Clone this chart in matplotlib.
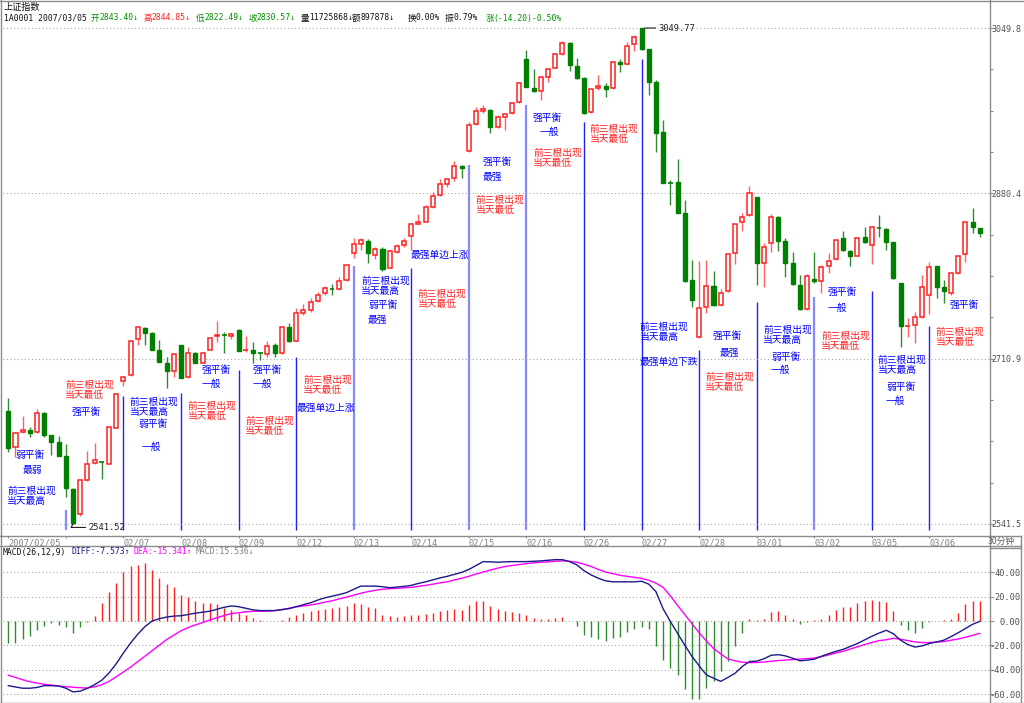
import matplotlib
matplotlib.use('Agg')
import matplotlib.pyplot as plt
import matplotlib.transforms as mtransforms
from matplotlib.patches import Rectangle
from matplotlib.lines import Line2D
import numpy as np

plt.rcParams['font.family'] = ['DejaVu Sans', 'Noto Sans CJK SC']

# ---------------- data (30-minute bars, 8 per day) ----------------
days = ['2007/02/05', '02/06', '02/07', '02/08', '02/09', '02/12', '02/13', '02/14',
        '02/15', '02/16', '02/26', '02/27', '02/28', '03/01', '03/02', '03/05', '03/06']

opens = [2657.3, 2620.1, 2635.5, 2638.1, 2635.5, 2655.0, 2632.7, 2625.9,
         2611.2, 2577.7, 2551.4, 2586.3, 2604.0, 2605.8, 2603.3, 2640.2,
         2688.1, 2694.5, 2730.8, 2742.4, 2737.6, 2719.5, 2706.2, 2698.0,
         2724.6, 2691.8, 2717.1, 2706.2, 2719.8, 2734.2, 2735.9, 2734.2,
         2740.6, 2719.5, 2719.8, 2716.8, 2715.4, 2724.9, 2716.4, 2743.7,
         2729.0, 2758.0, 2760.8, 2770.0, 2778.5, 2782.5, 2782.3, 2791.6,
         2818.9, 2828.1, 2831.8, 2816.9, 2823.6, 2804.2, 2820.6, 2827.1,
         2836.6, 2848.9, 2851.3, 2866.7, 2878.7, 2889.9, 2896.4, 2908.4,
         2924.1, 2951.1, 2964.8, 2965.8, 2948.0, 2958.9, 2962.4, 2974.3,
         3017.7, 2988.6, 2985.2, 2999.3, 3009.1, 3023.2, 3034.1, 3010.9,
         2998.9, 2963.4, 2988.0, 2990.7, 2988.0, 3015.3, 3012.6, 3033.1,
         3049.5, 3028.0, 2994.8, 2943.5, 2891.3, 2892.0, 2860.5, 2791.6,
         2733.5, 2764.2, 2785.4, 2765.9, 2780.3, 2818.9, 2851.0, 2858.2,
         2876.3, 2809.3, 2829.2, 2856.4, 2831.8, 2808.7, 2786.4, 2761.8,
         2792.3, 2790.8, 2805.9, 2812.8, 2834.9, 2821.3, 2816.2, 2835.3,
         2827.4, 2845.3, 2843.40, 2830.2, 2788.2, 2744.4, 2745.4, 2754.0,
         2776.2, 2805.9, 2784.1, 2777.9, 2798.4, 2818.2, 2851.3, 2844.5]

highs = [2670.3, 2636.1, 2652.2, 2641.2, 2659.7, 2656.0, 2633.0, 2631.7,
         2623.5, 2578.0, 2586.3, 2616.0, 2624.8, 2606.5, 2641.5, 2674.4,
         2693.2, 2729.4, 2743.1, 2743.7, 2738.0, 2730.4, 2713.0, 2715.4,
         2725.0, 2723.2, 2717.5, 2717.8, 2732.1, 2749.9, 2738.0, 2737.0,
         2741.0, 2734.2, 2727.7, 2718.1, 2729.4, 2727.0, 2743.7, 2747.2,
         2762.6, 2767.0, 2772.8, 2779.6, 2785.7, 2787.5, 2794.9, 2806.6,
         2834.3, 2834.9, 2833.3, 2825.7, 2825.7, 2822.3, 2828.1, 2834.3,
         2848.9, 2859.2, 2868.4, 2882.1, 2894.8, 2896.4, 2913.8, 2909.4,
         2953.8, 2968.5, 2970.9, 2966.5, 2960.7, 2962.4, 2974.3, 2994.8,
         3027.3, 3007.5, 3000.6, 3009.1, 3024.5, 3036.8, 3035.8, 3018.8,
         2999.3, 2987.3, 3001.6, 2993.1, 3016.4, 3017.7, 3035.8, 3042.6,
         3049.77, 3028.3, 2996.5, 2955.5, 2894.0, 2915.3, 2873.5, 2812.1,
         2811.0, 2812.1, 2800.8, 2782.0, 2817.9, 2848.6, 2860.5, 2888.2,
         2876.9, 2829.2, 2858.9, 2857.1, 2834.3, 2819.9, 2796.7, 2797.4,
         2820.6, 2806.9, 2818.9, 2832.6, 2841.8, 2821.8, 2834.3, 2846.2,
         2847.2, 2858.2, 2844.85, 2830.5, 2788.5, 2752.3, 2759.1, 2796.7,
         2810.3, 2806.2, 2791.6, 2799.0, 2816.2, 2851.3, 2865.0, 2845.0]

lows = [2615.0, 2610.5, 2635.0, 2630.7, 2635.0, 2631.0, 2611.9, 2611.5,
        2569.5, 2541.52, 2549.5, 2586.0, 2603.0, 2587.6, 2603.0, 2640.0,
        2682.9, 2693.2, 2724.9, 2724.9, 2719.5, 2707.5, 2680.6, 2692.2,
        2690.8, 2691.5, 2706.5, 2706.0, 2719.5, 2728.0, 2716.8, 2731.1,
        2718.5, 2717.8, 2706.2, 2709.6, 2713.0, 2713.0, 2716.0, 2728.3,
        2728.7, 2755.7, 2759.1, 2769.3, 2776.2, 2776.2, 2781.3, 2790.8,
        2813.8, 2822.3, 2809.3, 2813.4, 2801.1, 2803.8, 2818.9, 2825.7,
        2822.3, 2848.6, 2851.0, 2865.0, 2877.6, 2886.6, 2893.3, 2895.8,
        2923.0, 2950.4, 2963.0, 2941.9, 2947.0, 2945.3, 2961.7, 2973.3,
        2989.0, 2984.5, 2976.0, 2994.8, 3008.5, 3022.1, 3006.0, 2997.2,
        2962.0, 2962.8, 2986.3, 2978.8, 2987.5, 3005.0, 3011.9, 3026.5,
        3027.3, 2981.1, 2923.0, 2890.7, 2868.4, 2860.2, 2789.8, 2763.4,
        2731.8, 2757.4, 2764.9, 2764.9, 2779.6, 2807.7, 2842.1, 2857.1,
        2786.4, 2784.7, 2820.6, 2821.3, 2794.3, 2786.4, 2760.8, 2760.8,
        2788.8, 2777.9, 2799.0, 2812.5, 2821.6, 2805.9, 2815.9, 2829.2,
        2807.7, 2835.9, 2822.49, 2793.0, 2723.2, 2732.8, 2727.3, 2752.9,
        2756.7, 2772.8, 2767.7, 2776.2, 2797.7, 2810.3, 2840.0, 2835.3]

closes = [2619.1, 2635.1, 2638.1, 2635.1, 2655.0, 2632.7, 2625.9, 2611.5,
          2578.1, 2543.0, 2586.3, 2603.0, 2606.8, 2604.7, 2640.9, 2674.4,
          2692.5, 2729.4, 2743.1, 2737.6, 2719.8, 2707.8, 2698.0, 2715.4,
          2691.1, 2716.4, 2706.8, 2717.1, 2732.1, 2735.5, 2735.2, 2736.5,
          2718.8, 2720.5, 2717.1, 2716.4, 2724.2, 2716.4, 2743.7, 2729.0,
          2758.0, 2760.5, 2769.3, 2776.2, 2783.1, 2782.1, 2790.8, 2806.6,
          2828.1, 2832.6, 2818.9, 2823.6, 2802.8, 2821.3, 2826.4, 2831.5,
          2848.9, 2851.3, 2866.1, 2877.6, 2889.6, 2895.1, 2908.4, 2906.0,
          2950.4, 2965.1, 2966.5, 2948.7, 2958.3, 2961.7, 2972.6, 2993.1,
          2989.6, 2985.6, 2999.3, 3007.5, 3022.9, 3034.7, 3011.9, 2998.3,
          2962.4, 2987.3, 2990.7, 2987.3, 3014.7, 3012.6, 3031.4, 3040.9,
          3028.0, 2994.8, 2941.9, 2891.3, 2890.7, 2860.5, 2790.8, 2771.4,
          2762.6, 2785.7, 2765.9, 2777.9, 2817.9, 2848.6, 2856.4, 2881.0,
          2808.7, 2825.7, 2856.4, 2831.5, 2808.7, 2787.2, 2761.8, 2796.0,
          2790.8, 2804.6, 2811.0, 2832.6, 2822.3, 2816.2, 2834.3, 2830.8,
          2846.2, 2844.77, 2830.57, 2793.3, 2744.7, 2745.4, 2754.0, 2784.1,
          2804.6, 2784.1, 2780.3, 2798.4, 2816.2, 2851.3, 2846.2, 2840.0]

macd_diff = [-52.8, -53.9, -54.9, -54.9, -54.3, -52.8, -52.8, -53.1,
             -54.9, -57.9, -57.3, -54.9, -52.0, -48.3, -42.4, -34.9,
             -26.1, -17.9, -10.7, -4.5, 0.0, 1.9, 3.2, 4.0,
             4.3, 5.3, 6.4, 7.2, 8.0, 9.6, 11.2, 12.3,
             11.7, 10.4, 9.1, 8.5, 8.5, 8.5, 9.3, 10.1,
             11.7, 13.3, 14.9, 17.1, 18.9, 20.3, 21.6, 23.2,
             25.9, 28.5, 28.5, 28.5, 28.0, 27.2, 27.7, 28.3,
             29.1, 30.7, 32.0, 33.6, 35.2, 36.5, 38.1, 39.7,
             42.1, 45.3, 48.5, 48.3, 48.0, 48.3, 48.5, 48.5,
             48.5, 48.8, 49.1, 49.6, 50.1, 50.1, 48.5, 45.9,
             41.1, 37.6, 34.9, 32.8, 32.0, 32.0, 32.0, 32.0,
             32.5, 30.1, 24.0, 9.9, -0.3, -10.1, -19.7, -28.8,
             -36.5, -44.0, -46.7, -49.3, -46.1, -42.7, -37.1, -33.1,
             -32.8, -30.9, -28.0, -27.5, -28.5, -30.4, -32.5, -32.0,
             -31.2, -28.8, -26.7, -24.8, -23.2, -20.8, -18.4, -15.5,
             -12.5, -9.9, -7.573, -10.4, -15.7, -19.2, -21.3, -20.3,
             -18.4, -17.1, -15.7, -12.8, -9.6, -6.1, -2.7, -0.3]

macd_dea = [-44.3, -46.1, -48.0, -49.6, -50.7, -51.7, -52.3, -53.1,
            -53.7, -54.1, -54.5, -54.7, -53.7, -52.0, -49.3, -45.6,
            -41.6, -37.6, -33.1, -28.5, -24.0, -19.5, -15.2, -11.5,
            -8.0, -5.3, -3.2, -1.3, 0.8, 2.7, 4.5, 6.1,
            6.7, 7.5, 7.9, 8.0, 8.0, 8.5, 9.2, 10.4,
            11.5, 12.3, 13.1, 14.1, 15.5, 16.5, 18.1, 19.5,
            21.1, 22.7, 24.0, 25.1, 25.9, 26.4, 26.7, 27.1,
            27.5, 28.3, 29.1, 30.1, 31.2, 32.0, 33.6, 34.9,
            36.5, 38.4, 40.0, 41.6, 43.2, 44.5, 45.3, 46.1,
            46.9, 47.5, 48.0, 48.3, 48.8, 49.1, 48.8, 48.0,
            46.4, 44.5, 42.1, 40.0, 38.7, 37.3, 36.5, 35.7,
            34.7, 33.3, 30.9, 27.5, 20.5, 12.8, 5.3, -2.1,
            -9.6, -16.3, -22.4, -26.9, -30.9, -32.5, -33.7, -34.0,
            -33.9, -33.5, -32.9, -32.3, -31.9, -31.5, -31.1, -30.7,
            -30.3, -29.1, -27.7, -26.1, -24.8, -22.9, -21.1, -19.2,
            -17.6, -16.0, -15.341, -14.1, -14.9, -16.0, -17.1, -17.6,
            -17.6, -17.3, -16.8, -15.7, -14.7, -13.3, -11.7, -10.1]

macd_hist = [-18.0, -17.6, -15.0, -12.0, -7.0, -4.0, -2.0, -3.0,
             -5.3, -10.0, -5.0, -0.8, 3.7, 14.4, 24.0, 31.0,
             40.0, 45.0, 45.9, 47.2, 41.9, 35.2, 30.4, 27.7,
             21.3, 19.7, 16.5, 14.4, 14.4, 13.9, 10.7, 9.1,
             6.4, 4.5, 2.7, 0.5, 0.0, -0.3, 1.0, 3.2,
             5.0, 6.4, 8.0, 9.0, 9.9, 10.7, 11.2, 12.5,
             14.4, 13.9, 11.7, 10.7, 5.0, 3.7, 3.2, 3.7,
             4.5, 5.0, 5.9, 6.7, 8.0, 9.0, 9.9, 9.0,
             13.3, 16.5, 16.0, 12.5, 9.9, 8.0, 7.2, 6.4,
             5.0, 2.7, 1.9, 1.9, 2.7, 3.2, 0.0, -4.3,
             -11.5, -12.8, -14.9, -16.0, -14.1, -12.8, -8.8, -6.9,
             -5.3, -6.9, -20.8, -31.5, -38.0, -44.3, -55.5, -64.0,
             -63.5, -55.0, -48.8, -40.8, -32.8, -20.8, -10.0, 1.9,
             1.0, 1.9, 7.2, 8.0, 5.3, 1.9, -2.7, -0.8,
             0.5, 1.9, 5.3, 9.0, 11.7, 11.7, 14.4, 16.5,
             17.0, 16.5, 15.536, 8.0, -3.5, -7.5, -10.0, -6.1,
             -0.8, -0.3, 0.5, 1.6, 6.8, 13.6, 16.6, 16.6]

price_labels = [3049.8, 2880.4, 2710.9, 2541.5]
macd_labels = [40, 20, 0, -20, -40, -60]

# ---------------- layout helpers ----------------
W, H = 1024, 703
fig = plt.figure(figsize=(W / 100, H / 100), dpi=100)
fig.patch.set_facecolor('white')
PIX = mtransforms.Affine2D().scale(1 / W, -1 / H).translate(0, 1) + fig.transFigure

RED = '#FF2020'
GREEN = '#008000'
BLUE = '#0000FF'
GRID = '#A8A8A8'
FRAME = '#8C8C8C'
MONO = ['DejaVu Sans Mono', 'Noto Sans CJK SC']
CJK = ['Noto Sans CJK SC', 'DejaVu Sans']

X0, X1 = 3, 990
px_per_bar = 7.196
first_px = 8.3
xlim = ((X0 - first_px) / px_per_bar, (X1 - first_px) / px_per_bar)

ax = fig.add_axes([X0 / W, 1 - 535.7 / H, (X1 - X0) / W, 535.7 / H])
axm = fig.add_axes([X0 / W, 0, (X1 - X0) / W, (703 - 545.7) / H])

for a in (ax, axm):
    a.set_facecolor('none')
    for s in a.spines.values():
        s.set_visible(False)
    a.set_xlim(*xlim)

ax.set_ylim(2529.5, 3078.5)
axm.set_ylim(-66.97, 61.5)

n = len(closes)
xs = np.arange(n)
bw = 0.56

# ---------------- candles ----------------
for i in range(n):
    o, h, l, c = opens[i], highs[i], lows[i], closes[i]
    if c >= o:
        ax.vlines(i, l, h, color='#FF6060', lw=1.0, zorder=2)
        if c - o < 1.2:
            ax.hlines((o + c) / 2, i - bw / 2 - 0.05, i + bw / 2 + 0.05, color=RED, lw=1.2, zorder=3)
        else:
            ax.add_patch(Rectangle((i - bw / 2, o), bw, c - o, facecolor='white',
                                   edgecolor=RED, lw=1.1, zorder=3))
    else:
        ax.vlines(i, l, h, color='#2E8B2E', lw=1.0, zorder=2)
        if o - c < 1.2:
            ax.hlines((o + c) / 2, i - bw / 2 - 0.05, i + bw / 2 + 0.05, color=GREEN, lw=1.2, zorder=3)
        else:
            ax.add_patch(Rectangle((i - bw / 2, c), bw, o - c, facecolor=GREEN,
                                   edgecolor=GREEN, lw=1.0, zorder=3))

# max / min labels
imax = int(np.argmax(highs))
imin = int(np.argmin(lows))
ax.annotate(f'{highs[imax]:.2f}', xy=(imax + 0.4, highs[imax]), xytext=(10, 0),
            textcoords='offset points', ha='left', va='center', fontsize=6.3,
            family=MONO, color='#202020',
            arrowprops=dict(arrowstyle='-', color='#202020', lw=0.8, shrinkA=0, shrinkB=0))
ax.annotate(f'{lows[imin]:.2f}', xy=(imin, lows[imin]), xytext=(11, -2.5),
            textcoords='offset points', ha='left', va='center', fontsize=6.3,
            family=MONO, color='#202020',
            arrowprops=dict(arrowstyle='-', color='#202020', lw=0.8, shrinkA=0, shrinkB=0,
                            connectionstyle='angle,angleA=0,angleB=60,rad=0'))

# ---------------- day separators ----------------
sep_top = [2555.9, 2672.7, 2675.7, 2699.3, 2712.6, 2805.9, 2803.9, 2909.4,
           2970.9, 2953.5, 3018.0, 2719.8, 2769.0, 2774.1, 2780.3, 2744.4]
light = {1, 6, 8, 9, 14}
for k, top in enumerate(sep_top, start=1):
    if k in light:
        ax.vlines(8 * k, 2535.4, top, color='#8888FF', lw=1.6, zorder=1)
    else:
        ax.vlines(8 * k, 2535.4, top, color='#2020F0', lw=1.0, zorder=1)

# ---------------- price axis ----------------
ax.set_yticks(price_labels)
ax.set_yticklabels([f'{v:.1f}' for v in price_labels])
ax.set_yticks(np.linspace(price_labels[-1], price_labels[0], 13), minor=True)
ax.yaxis.tick_right()
ax.tick_params(axis='y', which='major', length=3, width=0.8, color=FRAME, labelcolor='#505050',
               labelsize=6, pad=19.3)
ax.tick_params(axis='y', which='minor', length=2, width=0.8, color=FRAME)
for t in ax.get_yticklabels():
    t.set_ha('right')
    t.set_family(MONO)
ax.grid(axis='y', which='major', ls=(0, (1, 2.2)), color=GRID, lw=0.8)

tick_bars = [8 * k for k in range(len(days))]
ax.set_xticks(tick_bars)
ax.set_xticklabels([d if k != 1 else '' for k, d in enumerate(days)])
ax.tick_params(axis='x', length=1.6, width=0.8, color=FRAME, labelcolor='#808080',
               labelsize=6.2, pad=0.4)
for t in ax.get_xticklabels():
    t.set_ha('left')
    t.set_family(MONO)

# ---------------- MACD ----------------
hist_cols = [RED if v > 0 else '#2E8B2E' for v in macd_hist]
axm.vlines(xs, 0, macd_hist, colors=hist_cols, lw=1.0, zorder=2)
axm.plot(xs, macd_dea, color='#FF00FF', lw=1.0, zorder=3)
axm.plot(xs, macd_diff, color='#1A1A8C', lw=1.0, zorder=4)
axm.set_yticks(macd_labels)
axm.set_yticklabels([f'{v:.2f}' for v in macd_labels])
axm.yaxis.tick_right()
axm.tick_params(axis='y', length=3, width=0.8, color=FRAME, labelcolor='#505050',
                labelsize=6.2, pad=19.3)
for t in axm.get_yticklabels():
    t.set_ha('right')
    t.set_family(MONO)
axm.set_xticks([])
axm.grid(axis='y', ls=(0, (1, 2.2)), color=GRID, lw=0.8)

# ---------------- annotations ----------------
notes = [
    (15, 450, "弱平衡", BLUE), (23, 465, "最弱", BLUE), (7, 486, "前三根出现\n当天最高", BLUE),
    (65, 380, "前三根出现\n当天最低", RED), (72, 407, "强平衡", BLUE),
    (130, 397, "前三根出现\n当天最高", BLUE), (138, 419, "弱平衡", BLUE), (142, 442, "一般", BLUE),
    (202, 365, "强平衡", BLUE), (202, 379, "一般", BLUE), (188, 401, "前三根出现\n当天最低", RED),
    (253, 365, "强平衡", BLUE), (253, 379, "一般", BLUE), (245, 416, "前三根出现\n当天最低", RED),
    (303, 375, "前三根出现\n当天最低", RED), (297, 403, "最强单边上涨", BLUE),
    (361, 276, "前三根出现\n当天最高", BLUE), (368, 300, "弱平衡", BLUE), (368, 315, "最强", BLUE),
    (411, 250, "最强单边上涨", BLUE), (418, 289, "前三根出现\n当天最低", RED),
    (483, 157, "强平衡", BLUE), (483, 172, "最强", BLUE), (476, 195, "前三根出现\n当天最低", RED),
    (533, 113, "强平衡", BLUE), (540, 127, "一般", BLUE), (533, 148, "前三根出现\n当天最低", RED),
    (590, 124, "前三根出现\n当天最低", RED),
    (640, 322, "前三根出现\n当天最高", BLUE), (640, 357, "最强单边下跌", BLUE),
    (713, 331, "强平衡", BLUE), (720, 348, "最强", BLUE), (705, 372, "前三根出现\n当天最低", RED),
    (763, 325, "前三根出现\n当天最高", BLUE), (771, 352, "弱平衡", BLUE), (771, 365, "一般", BLUE),
    (828, 287, "强平衡", BLUE), (828, 303, "一般", BLUE), (821, 331, "前三根出现\n当天最低", RED),
    (878, 355, "前三根出现\n当天最高", BLUE), (886, 382, "弱平衡", BLUE), (886, 396, "一般", BLUE),
    (950, 300, "强平衡", BLUE), (936, 327, "前三根出现\n当天最低", RED),
]
for x, y, s, c in notes:
    fig.text(x, y, s, transform=PIX, color=c, fontsize=7, family=CJK, ha='left', va='top',
             linespacing=0.95, zorder=5)

# ---------------- header texts ----------------
fig.text(3, 7, '上证指数', transform=PIX, fontsize=6.6, family=CJK, va='center', color='#101010')
fig.text(3.8, 18, '1A0001 2007/03/05', transform=PIX, fontsize=5.8, family=MONO,
         va='center', color='#101010')
header = [
    (90.7, '开', '2843.40↓', '#009000'),
    (143.5, '高', '2844.85↓', '#FF2020'),
    (196, '低', '2822.49↓', '#009000'),
    (248, '收', '2830.57↓', '#009000'),
    (300.4, '量', '11725868↓', '#101010'),
    (352, '额', '897878↓', '#101010'),
    (407.6, '换', '0.00%', '#101010'),
    (445, '振', '0.79%', '#101010'),
    (485.3, '涨', '(-14.20)-0.50%', '#009000'),
]
for x, ch, s, c in header:
    fig.text(x, 18, ch, transform=PIX, fontsize=6.2, family=CJK, va='center', color=c)
    fig.text(x + 8.3, 18, s, transform=PIX, fontsize=5.8, family=MONO, va='center', color=c)

macd_head = [
    (3, 'MACD(26,12,9)', '#101010'),
    (71, 'DIFF:-7.573↑', '#1A1A8C'),
    (133, 'DEA:-15.341↑', '#FF00FF'),
    (196, 'MACD:15.536↓', '#808080'),
]
for x, s, c in macd_head:
    fig.text(x, 552, s, transform=PIX, fontsize=5.9, family=MONO, va='center', color=c)

fig.text(988, 541, '30分钟', transform=PIX, fontsize=6.3, family=CJK, va='center', color='#606060')

# ---------------- frame lines ----------------
def fline(x0, y0, x1, y1, c=FRAME, lw=1.0):
    fig.add_artist(Line2D([x0, x1], [y0, y1], transform=PIX, color=c, lw=lw))

fline(0.5, 0, 0.5, 703)
fline(0, 0.5, 1024, 0.5)
fline(990, 0, 990, 703)
fline(0, 535.7, 1021, 535.7)
fline(0, 545.7, 1021, 545.7)
fline(990, 547.5, 1021, 547.5)
fline(1021, 535.7, 1021, 703)
fline(0, 702.5, 1024, 702.5)

fig.savefig('out.png', dpi=100, facecolor='white')
